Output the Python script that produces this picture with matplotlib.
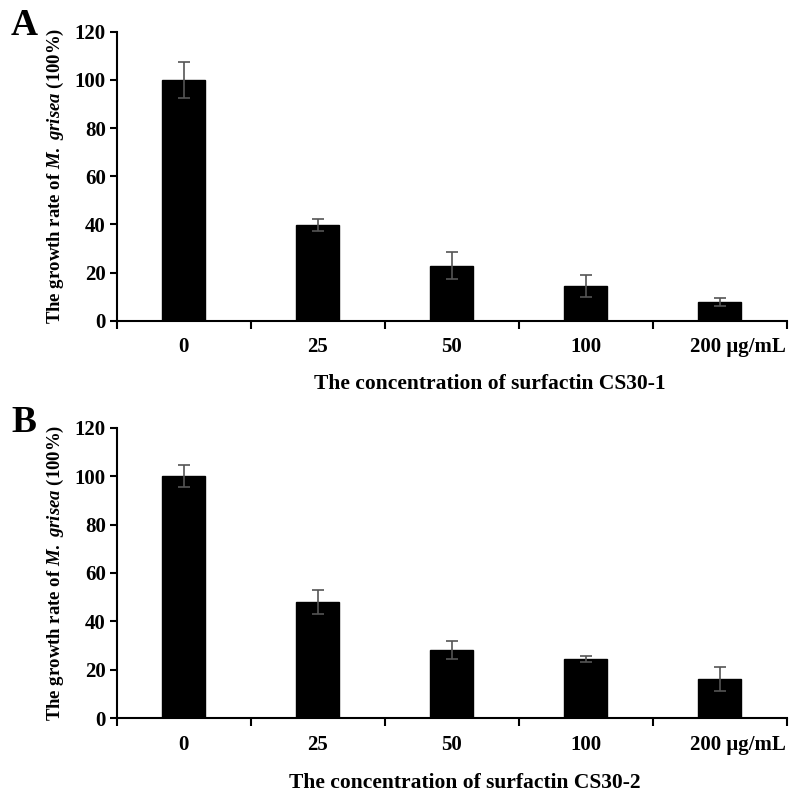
import numpy as np
import matplotlib
matplotlib.use('Agg')
import matplotlib.pyplot as plt
from matplotlib.transforms import ScaledTranslation

plt.rcParams['font.family'] = ['Liberation Serif', 'DejaVu Serif']
plt.rcParams['font.weight'] = 'bold'
plt.rcParams['axes.labelweight'] = 'bold'
plt.rcParams['mathtext.fontset'] = 'custom'
plt.rcParams['mathtext.rm'] = 'Liberation Serif:bold'
plt.rcParams['mathtext.it'] = 'Liberation Serif:italic:bold'

conc = ['0', '25', '50', '100', '200 \u03bcg/mL']
rate_a = [99.9, 39.7, 22.9, 14.5, 7.8]
err_a = [7.4, 2.6, 5.6, 4.5, 1.5]
rate_b = [100.2, 48.1, 28.1, 24.4, 16.0]
err_b = [4.6, 5.0, 3.8, 1.4, 5.0]
xlabels = ['The concentration of surfactin CS30-1', 'The concentration of surfactin CS30-2']
panels = ['A', 'B']

fig = plt.figure(figsize=(7.9, 7.94), dpi=100)
ax_a = fig.add_axes([0.148, 0.596, 0.848, 0.364])
ax_b = fig.add_axes([0.148, 0.0957, 0.848, 0.3653])

x = np.arange(len(conc))
for ax, vals, errs, xl, tag, lpad, lx in zip([ax_a, ax_b], [rate_a, rate_b], [err_a, err_b],
                                              xlabels, panels, [12, 13], [0.557, 0.519]):
    ax.bar(x, vals, width=0.32, color='black', edgecolor='black', zorder=2)
    ax.errorbar(x, vals, yerr=errs, fmt='none', ecolor='#555555', elinewidth=1.2,
                capsize=4, capthick=1.2, zorder=3)
    ax.set_xlim(-0.5, 4.5)
    ax.set_ylim(0, 120)
    ax.set_yticks(range(0, 121, 20))
    ax.set_xticks(x)
    ax.set_xticklabels(conc)
    ax.set_xticks(np.arange(-0.5, 5.0, 1.0), minor=True)
    ax.tick_params(axis='x', which='major', length=0, pad=12, labelsize=15)
    ax.tick_params(axis='x', which='minor', length=6, width=1.5, direction='out')
    ax.tick_params(axis='y', length=5, width=1.5, direction='out', labelsize=15, pad=3)
    for s in ['top', 'right']:
        ax.spines[s].set_visible(False)
    for s in ['left', 'bottom']:
        ax.spines[s].set_linewidth(1.5)
    lab = ax.get_xticklabels()[-1]
    lab.set_transform(lab.get_transform() + ScaledTranslation(0.18, 0, fig.dpi_scale_trans))
    ax.set_xlabel(xl, fontsize=15.5, labelpad=lpad, x=lx)
    ax.set_ylabel(r'The growth rate of $\mathit{M.\ grisea}$ (100%)', fontsize=13.5, labelpad=6)
    ax.text(-0.158, 1.02, tag, transform=ax.transAxes, fontsize=27, fontweight='bold',
            ha='left', va='center')

fig.savefig('out.png', dpi=100)
